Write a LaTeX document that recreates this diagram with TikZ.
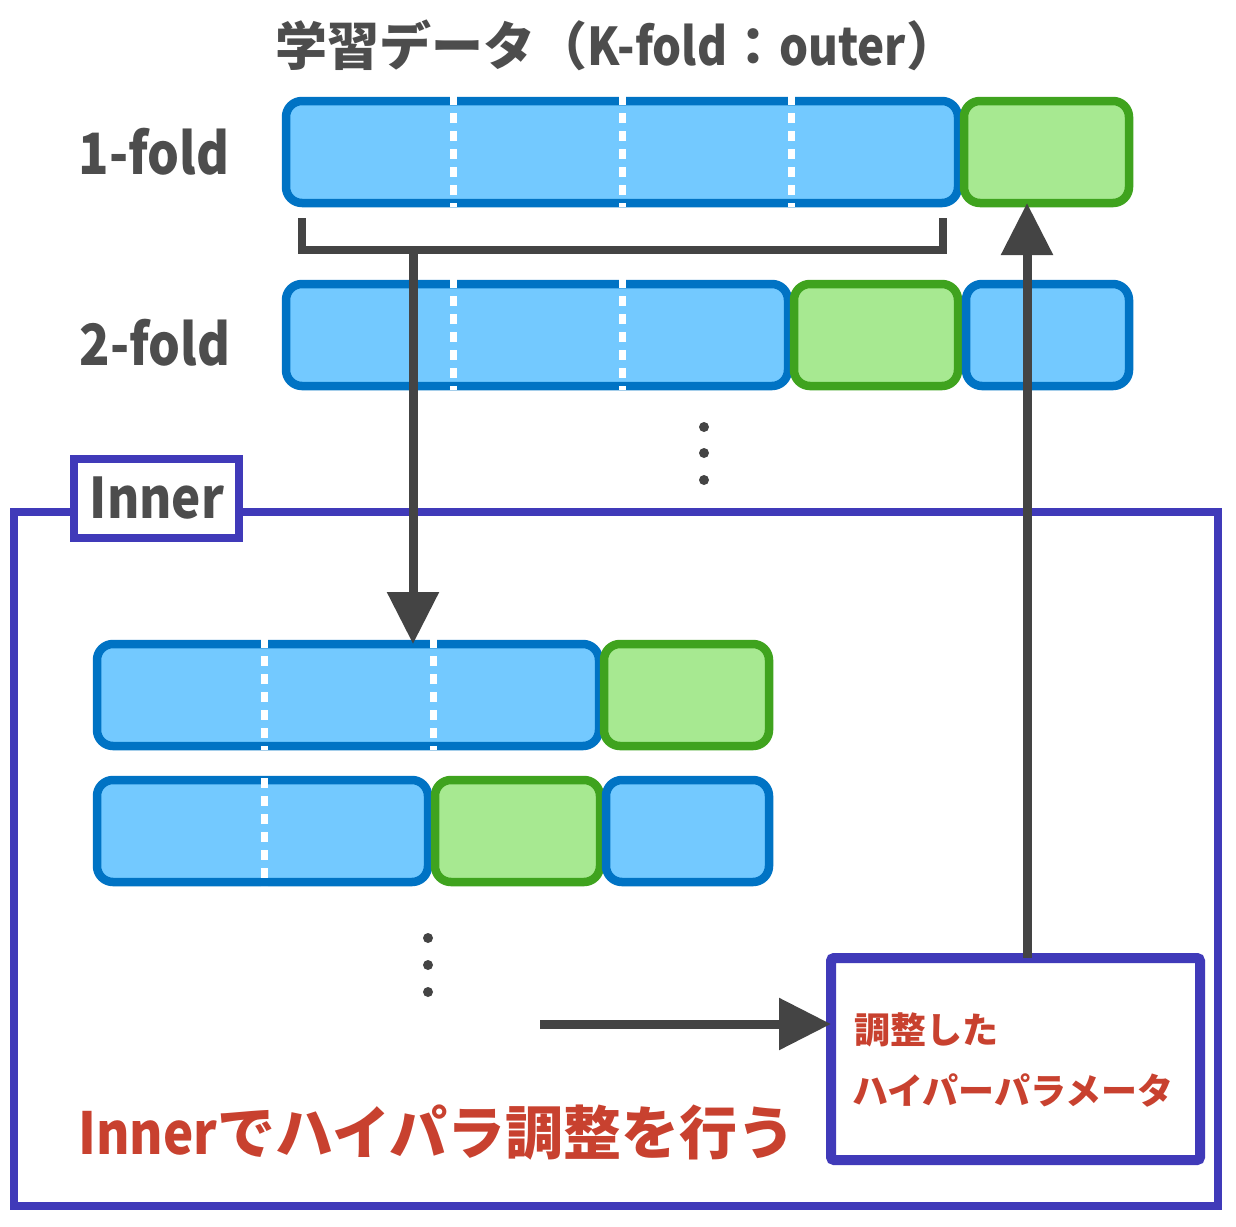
\documentclass[tikz,border=0pt]{standalone}
\usepackage{fontspec}
\setmainfont{Noto Sans CJK JP}
\newfontfamily\condensed{Noto Sans CJK JP}[FakeStretch=0.88]
\usetikzlibrary{arrows.meta}
\definecolor{bluefill}{RGB}{115,201,255}
\definecolor{bluedraw}{RGB}{0,115,196}
\definecolor{greenfill}{RGB}{167,233,145}
\definecolor{greendraw}{RGB}{63,163,30}
\definecolor{frame}{RGB}{64,58,185}
\definecolor{txtgray}{RGB}{77,77,77}
\definecolor{txtred}{RGB}{200,65,47}
\definecolor{arrgray}{RGB}{68,68,68}
\tikzset{
  bar/.style={draw, line width=8.5pt, rounded corners=16pt, minimum height=102pt, inner sep=0pt, outer sep=0pt},
  bluebar/.style={bar, draw=bluedraw, fill=bluefill},
  greenbar/.style={bar, draw=greendraw, fill=greenfill},
  sep/.style={draw=white, line width=7pt, dash pattern=on 10pt off 8pt},
  arr/.style={draw=arrgray, line width=9pt, -{Triangle[width=50pt,length=52pt]}},
  brk/.style={draw=arrgray, line width=8pt},
  dotc/.style={fill=arrgray, draw=none},
  framebox/.style={draw=frame, line width=8pt, inner sep=0pt, outer sep=0pt},
  gtxt/.style={text=txtgray, font=\bfseries, inner sep=0pt},
  rtxt/.style={text=txtred, font=\bfseries, inner sep=0pt, anchor=west},
}
\begin{document}
\begin{tikzpicture}[x=1pt,y=-1pt]
\useasboundingbox (0,0) rectangle (1236,1226);
% title
\node[gtxt, font=\bfseries\fontsize{52}{52}\selectfont] (title) at (617,45) {学習データ（{\condensed K-fold}：{\condensed outer}）};
% row labels
\node[gtxt, font=\condensed\bfseries\fontsize{57}{57}\selectfont] (l1) at (154,152) {1-fold};
\node[gtxt, font=\condensed\bfseries\fontsize{57}{57}\selectfont] (l2) at (155,343) {2-fold};
% outer row 1
\node[bluebar, minimum width=672pt] (b11) at (622,152) {};
\node[greenbar, minimum width=165pt] (g1) at (1046.5,152) {};
\foreach \x in {453,622,791} \draw[sep] (\x,95) -- (\x,207);
% outer row 2
\node[bluebar, minimum width=502pt] (b21) at (537,335) {};
\node[greenbar, minimum width=164pt] (g2) at (876,335) {};
\node[bluebar, minimum width=163pt] (b22) at (1047.5,335) {};
\foreach \x in {453,622} \draw[sep] (\x,278) -- (\x,390);
% dots
\foreach \y in {427,453,480} \fill[dotc] (704,\y) circle (5pt);
% inner frame
\node[framebox, minimum width=1204pt, minimum height=694pt] (inner) at (616,859) {};
\node[framebox, fill=white, minimum width=165pt, minimum height=79pt] (innerlbl) at (156.5,498.5) {};
\node[gtxt, font=\condensed\bfseries\fontsize{56}{56}\selectfont] (innertxt) at (157,498) {Inner};
% inner row 1
\node[bluebar, minimum width=502pt] (c11) at (348,695) {};
\node[greenbar, minimum width=165pt] (cg1) at (686.5,695) {};
\foreach \x in {264,433} \draw[sep] (\x,638) -- (\x,750);
% inner row 2
\node[bluebar, minimum width=331pt] (c21) at (262.5,831) {};
\node[greenbar, minimum width=165pt] (cg2) at (517.5,831) {};
\node[bluebar, minimum width=163pt] (c22) at (687.5,831) {};
\draw[sep] (264,778) -- (264,886);
% inner dots
\foreach \y in {938,965,992} \fill[dotc] (428,\y) circle (5pt);
% hyperparameter box
\node[framebox, line width=10pt, rounded corners=3pt, minimum width=369pt, minimum height=202pt] (hp) at (1015.5,1059) {};
\node[rtxt, font=\bfseries\fontsize{36}{36}\selectfont] (hp1) at (854,1030) {調整した};
\node[rtxt, font=\bfseries\fontsize{36}{36}\selectfont] (hp2) at (852,1090) {ハイパーパラメータ};
% main red text
\node[rtxt, font=\bfseries\fontsize{58}{58}\selectfont] (main) at (78,1133) {{\condensed Inner}でハイパラ調整を行う};
% bracket
\coordinate (bl) at (302,218);
\coordinate (br) at (943,218);
\coordinate (bb) at (302,250);
\draw[brk] (bl) -- (bb) -| (br);
% down arrow
\coordinate (dstart) at (413,250);
\draw[arr] (dstart) -- (dstart |- c11.north);
% up arrow
\coordinate (upx) at (1027,0);
\draw[arr] (hp.north -| upx) -- (g1.south -| upx);
% horizontal arrow
\coordinate (hstart) at (540,1024);
\draw[arr] (hstart) -- (hstart -| hp.west);
\end{tikzpicture}
\end{document}
